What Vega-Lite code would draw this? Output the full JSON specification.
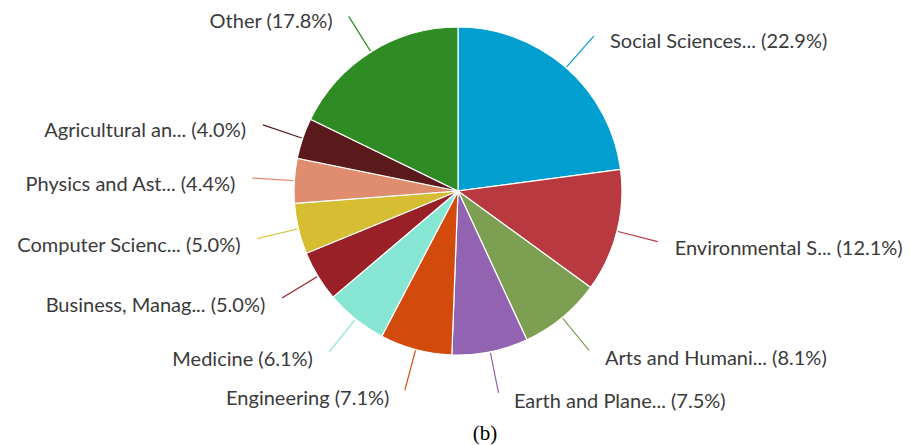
{
  "$schema": "https://vega.github.io/schema/vega-lite/v6.json",
  "width": 900,
  "height": 382,
  "autosize": "none",
  "padding": {"left": 8, "top": 0, "right": 2, "bottom": 63},
  "background": "white",
  "title": {
    "text": "(b)",
    "orient": "bottom",
    "anchor": "middle",
    "dx": 27,
    "offset": 11,
    "font": "Liberation Serif",
    "fontSize": 21,
    "fontWeight": "normal",
    "color": "#000000"
  },
  "data": {
    "values": [
      {"rank": 1, "name": "Social Sciences", "label": "Social Sciences... (22.9%)", "value": 22.9},
      {"rank": 2, "name": "Environmental Science", "label": "Environmental S... (12.1%)", "value": 12.1},
      {"rank": 3, "name": "Arts and Humanities", "label": "Arts and Humani... (8.1%)", "value": 8.1},
      {"rank": 4, "name": "Earth and Planetary Sciences", "label": "Earth and Plane... (7.5%)", "value": 7.5},
      {"rank": 5, "name": "Engineering", "label": "Engineering (7.1%)", "value": 7.1},
      {"rank": 6, "name": "Medicine", "label": "Medicine (6.1%)", "value": 6.1},
      {"rank": 7, "name": "Business, Management and Accounting", "label": "Business, Manag... (5.0%)", "value": 5.0},
      {"rank": 8, "name": "Computer Science", "label": "Computer Scienc... (5.0%)", "value": 5.0},
      {"rank": 9, "name": "Physics and Astronomy", "label": "Physics and Ast... (4.4%)", "value": 4.4},
      {"rank": 10, "name": "Agricultural and Biological Sciences", "label": "Agricultural an... (4.0%)", "value": 4.0},
      {"rank": 11, "name": "Other", "label": "Other (17.8%)", "value": 17.8}
    ]
  },
  "encoding": {
    "theta": {"field": "value", "type": "quantitative", "stack": true},
    "order": {"field": "rank", "type": "quantitative", "sort": "ascending"},
    "color": {
      "field": "name",
      "type": "nominal",
      "legend": null,
      "scale": {
        "domain": ["Social Sciences", "Environmental Science", "Arts and Humanities", "Earth and Planetary Sciences", "Engineering", "Medicine", "Business, Management and Accounting", "Computer Science", "Physics and Astronomy", "Agricultural and Biological Sciences", "Other"],
        "range": ["#019fcf", "#b83a40", "#7d9f52", "#9163b0", "#d34a0d", "#86e6d3", "#9a2027", "#d7bd32", "#e08d6f", "#5a191b", "#2f8c24"]
      }
    }
  },
  "layer": [
    {
      "mark": {"type": "arc", "outerRadius": 164, "stroke": "white", "strokeWidth": 1.2}
    },
    {
      "mark": {"type": "arc", "innerRadius": 165, "outerRadius": 206, "padAngle": 3, "fillOpacity": 0, "strokeWidth": 1.2},
      "encoding": {
        "stroke": {"field": "name", "type": "nominal", "legend": null, "scale": {
          "domain": ["Social Sciences", "Environmental Science", "Arts and Humanities", "Earth and Planetary Sciences", "Engineering", "Medicine", "Business, Management and Accounting", "Computer Science", "Physics and Astronomy", "Agricultural and Biological Sciences", "Other"],
          "range": ["#019fcf", "#b83a40", "#7d9f52", "#9163b0", "#d34a0d", "#86e6d3", "#9a2027", "#d7bd32", "#e08d6f", "#5a191b", "#2f8c24"]
        }}
      }
    },
    {
      "mark": {
        "type": "text",
        "radius": 208,
        "font": "Lato",
        "fontSize": 20,
        "baseline": "middle",
        "align": {"expr": "datum.rank <= 4 ? 'left' : 'right'"},
        "dx": {"expr": "datum.rank <= 4 ? 15 : -15"},
        "dy": 7
      },
      "encoding": {
        "text": {"field": "label", "type": "nominal"},
        "color": {"value": "#3a3a3a"}
      }
    }
  ],
  "config": {"view": {"stroke": null}}
}
